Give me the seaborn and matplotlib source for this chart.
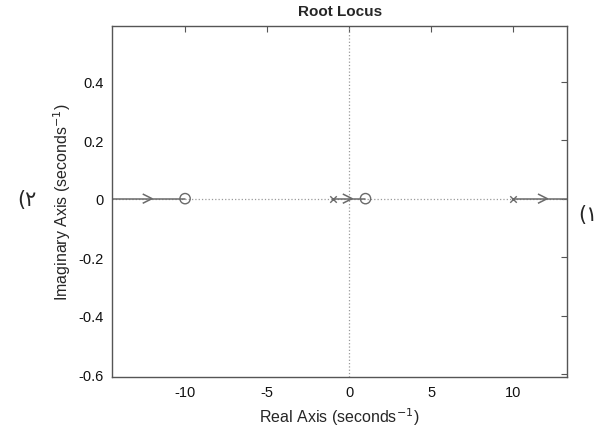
import numpy as np
import pandas as pd
import matplotlib
matplotlib.use("Agg")
import matplotlib.pyplot as plt
from matplotlib.path import Path
import seaborn as sns

# =========================
# DADOS
# =========================
POLOS = [-1, 10]
ZEROS = [-10, 1]
# ramos do lugar das raízes (parte real, parte imaginária = 0)
RAMO_ID = ["a", "a", "b", "b", "c", "c"]
RAMO_RE = [-1.0, 1.0, 10.0, 13.3, -14.45, -10.0]
SETAS_RE = [-12.3, -0.1, 11.8]
X_TICKS = [-10, -5, 0, 5, 10]
Y_TICKS = [-0.6, -0.4, -0.2, 0, 0.2, 0.4]
Y_TICK_LABELS = ["-0.6", "-0.4", "-0.2", "0", "0.2", "0.4"]
X_LIM = (-14.45, 13.3)
Y_LIM = (-0.61, 0.59)

sns.set_style("white")
plt.rcParams["font.family"] = ["Liberation Sans", "DejaVu Sans"]

COR = "#6a6a6a"

df_ramos = pd.DataFrame({"ramo": RAMO_ID, "re": RAMO_RE, "im": 0.0})
df_polos = pd.DataFrame({"re": POLOS, "im": 0.0})
df_zeros = pd.DataFrame({"re": ZEROS, "im": 0.0})
df_setas = pd.DataFrame({"re": SETAS_RE, "im": 0.0})

fig = plt.figure(figsize=(6.06, 4.31), dpi=100)
ax = fig.add_axes([0.185, 0.123, 0.751, 0.814])

# linhas pontilhadas dos eixos
ax.axhline(0, color="#9a9a9a", linestyle=":", linewidth=0.9, zorder=1)
ax.axvline(0, color="#9a9a9a", linestyle=":", linewidth=0.9, zorder=1)

sns.lineplot(data=df_ramos, x="re", y="im", units="ramo", estimator=None,
             color=COR, linewidth=1.1, ax=ax, zorder=2)

seta = Path([(-1, 1), (1, 0), (-1, -1)], [Path.MOVETO, Path.LINETO, Path.LINETO])
sns.scatterplot(data=df_setas, x="re", y="im", marker=seta, s=45,
                facecolor="none", edgecolor=COR, linewidth=1.1, ax=ax, zorder=3)
sns.scatterplot(data=df_polos, x="re", y="im", marker="x", s=22,
                color=COR, linewidth=1.0, ax=ax, zorder=3)
sns.scatterplot(data=df_zeros, x="re", y="im", marker="o", s=55,
                facecolor="none", edgecolor=COR, linewidth=1.0, ax=ax, zorder=3)

ax.set_xlim(*X_LIM)
ax.set_ylim(*Y_LIM)
ax.set_xticks(X_TICKS)
ax.set_xticklabels([str(t) for t in X_TICKS])
ax.set_yticks(Y_TICKS)
ax.set_yticklabels(Y_TICK_LABELS)
ax.tick_params(direction="in", length=4, width=0.8, colors="#555555",
               labelcolor="#111111", labelsize=10.5, top=True, right=True, pad=6)
for s in ax.spines.values():
    s.set_color("#555555")
    s.set_linewidth(1.0)

ax.set_title("Root Locus", fontsize=11, fontweight="bold", pad=8)
ax.set_xlabel("Real Axis (seconds$^{-1}$)", fontsize=11.5)
ax.set_ylabel("Imaginary Axis (seconds$^{-1}$)", fontsize=11.5)

fig.text(0.045, 0.535, "(\u0662", fontsize=15, family=["DejaVu Sans"],
         ha="center", va="center")
fig.text(0.97, 0.50, "(\u0661", fontsize=15, family=["DejaVu Sans"],
         ha="center", va="center")

fig.savefig("out.png", dpi=100)
